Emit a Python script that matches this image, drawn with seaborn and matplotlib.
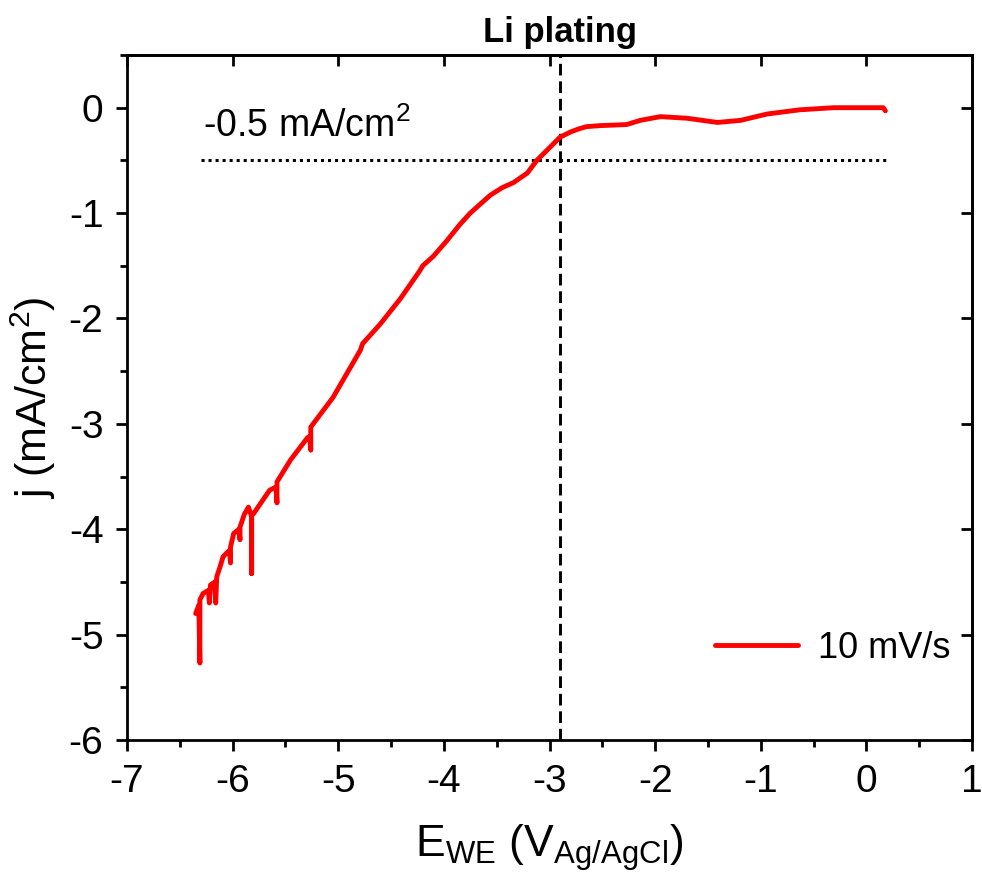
import matplotlib
matplotlib.use("Agg")
import matplotlib.pyplot as plt
import seaborn as sns
import pandas as pd
from matplotlib.ticker import MultipleLocator

# ---- data ----
potential = [0.18, 0.16, 0.0, -0.31, -0.63, -0.94, -1.19, -1.41, -1.70, -1.95,
             -2.14, -2.27, -2.52, -2.65, -2.72, -2.80, -2.90, -3.01, -3.12, -3.21,
             -3.34, -3.45, -3.56, -3.65, -3.75, -3.85, -3.97, -4.10, -4.20, -4.23,
             -4.41, -4.60, -4.77, -4.79, -5.05, -5.26, -5.26, -5.27, -5.29, -5.45,
             -5.58, -5.58, -5.59, -5.65, -5.80, -5.82, -5.82, -5.82, -5.85, -5.89,
             -5.93, -5.93, -5.94, -5.99, -6.02, -6.02, -6.03, -6.09, -6.12, -6.15,
             -6.16, -6.17, -6.21, -6.22, -6.23, -6.28, -6.31, -6.31, -6.32, -6.35]
current = [-0.03, 0.0, 0.0, 0.0, -0.02, -0.06, -0.12, -0.14, -0.10, -0.085,
           -0.12, -0.16, -0.17, -0.18, -0.20, -0.23, -0.28, -0.39, -0.50, -0.62,
           -0.71, -0.76, -0.83, -0.91, -1.00, -1.11, -1.26, -1.41, -1.50, -1.55,
           -1.81, -2.05, -2.24, -2.30, -2.75, -3.03, -3.25, -3.12, -3.13, -3.34,
           -3.55, -3.75, -3.60, -3.63, -3.85, -3.87, -4.42, -3.88, -3.79, -3.86,
           -3.98, -4.10, -4.00, -4.04, -4.17, -4.32, -4.20, -4.26, -4.36, -4.45,
           -4.70, -4.50, -4.53, -4.70, -4.58, -4.61, -4.67, -5.27, -4.72, -4.80]
series_label = "10 mV/s"
plating_potential = -2.9
threshold_current = -0.5
threshold_range = [-6.3, 0.2]
xticks = [-7, -6, -5, -4, -3, -2, -1, 0, 1]
yticks = [-6, -5, -4, -3, -2, -1, 0]

df = pd.DataFrame({"E": potential, "j": current})

sns.set_style("ticks")
plt.rcParams["font.family"] = ["Liberation Sans", "DejaVu Sans"]
plt.rcParams["mathtext.fontset"] = "custom"
plt.rcParams["mathtext.rm"] = "Liberation Sans"
plt.rcParams["mathtext.it"] = "Liberation Sans:italic"
plt.rcParams["mathtext.default"] = "regular"
plt.rcParams["text.color"] = "black"
plt.rcParams["axes.labelcolor"] = "black"
plt.rcParams["xtick.color"] = "black"
plt.rcParams["ytick.color"] = "black"

fig = plt.figure(figsize=(9.82, 8.8), dpi=100)
ax = fig.add_axes([127 / 982, 140 / 880, 845 / 982, 685 / 880])

sns.lineplot(data=df, x="E", y="j", sort=False, estimator=None, color="#ff0000",
             lw=3.5, ax=ax, label=series_label)

ax.axvline(plating_potential, color="black", lw=2.1, ls=(0, (4, 2)), zorder=1)
ax.plot(threshold_range, [threshold_current, threshold_current], color="black",
        lw=2.2, ls=(0, (1, 1.3)), zorder=1)
ax.text(-6.28, -0.28, "-0.5 mA/cm$^{2}$", fontsize=27, ha="left", va="baseline")
ax.text(plating_potential, 0.62, "Li plating", fontsize=25, fontweight="bold",
        ha="center", va="baseline")

ax.set_xlim(-7, 1)
ax.set_ylim(-6, 0.5)
ax.set_xticks(xticks)
ax.set_yticks(yticks)
ax.set_xticklabels([str(t) for t in xticks])
ax.set_yticklabels([str(t) for t in yticks])
ax.xaxis.set_minor_locator(MultipleLocator(0.5))
ax.yaxis.set_minor_locator(MultipleLocator(0.5))

for s in ax.spines.values():
    s.set_visible(True)
    s.set_linewidth(2)
    s.set_color("black")

ax.tick_params(which="major", direction="out", length=8, width=2, labelsize=28,
               pad=9, colors="black")
ax.tick_params(which="minor", direction="out", length=5, width=2)

sec_x = ax.secondary_xaxis("top")
sec_x.set_xticks(xticks)
sec_x.tick_params(direction="in", length=8, width=2, labeltop=False)
sec_x.spines["top"].set_linewidth(2)
sec_y = ax.secondary_yaxis("right")
sec_y.set_yticks(yticks)
sec_y.tick_params(direction="in", length=8, width=2, labelright=False)
sec_y.spines["right"].set_linewidth(2)

ax.set_xlabel("E$_{WE}$ (V$_{Ag/AgCl}$)", fontsize=32, labelpad=16)
ax.set_ylabel("j (mA/cm$^{2}$)", fontsize=31, labelpad=8)

leg = ax.legend(loc="center right", bbox_to_anchor=(0.974, 0.134), frameon=False,
                fontsize=26, handlelength=2.3, handletextpad=0.55,
                borderpad=0, borderaxespad=0)
for h in leg.get_lines():
    h.set_linewidth(3.5)

fig.savefig("out.png", dpi=100)
